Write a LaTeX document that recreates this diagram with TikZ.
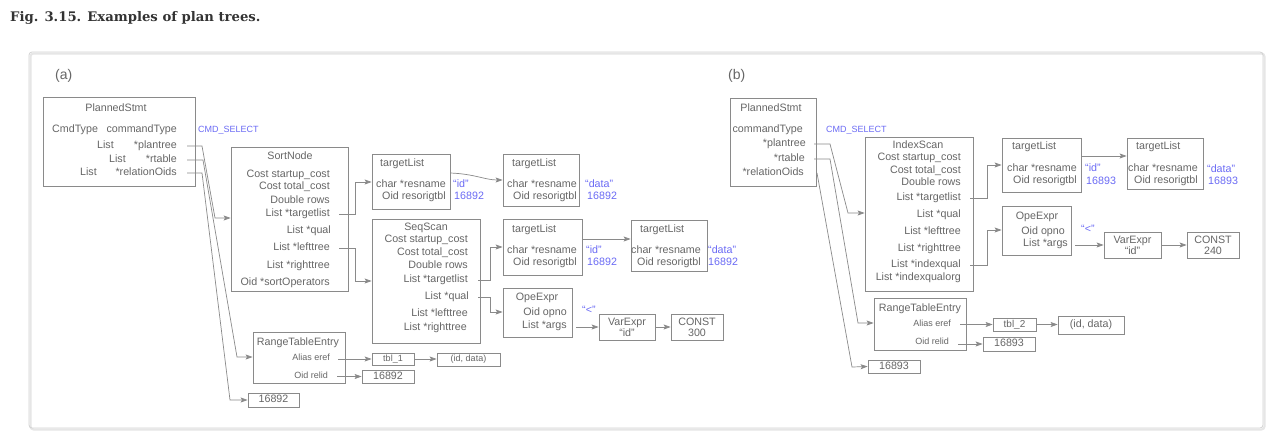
\documentclass[tikz,border=0pt]{standalone}
\usepackage{fontspec}
\setmainfont{Liberation Sans}
\newfontfamily\figfont{DejaVu Serif}
\usetikzlibrary{arrows.meta,calc,fit}
\definecolor{lnc}{HTML}{8A8A8A}
\definecolor{txc}{HTML}{666666}
\definecolor{blc}{HTML}{6B6BF5}
\definecolor{panc}{HTML}{D2D2D2}
\tikzset{
  box/.style={draw=lnc, line width=0.8pt, inner sep=0pt},
  txt/.style={text=txc, inner sep=0pt, font=\fontsize{10.7}{12.5}\selectfont, text height=7.6pt, text depth=2.2pt},
  txs/.style={txt, font=\fontsize{9}{11}\selectfont, text height=6.5pt, text depth=1.9pt},
  valt/.style={txt, text=blc},
  two/.style={text=txc, inner sep=0pt, font=\fontsize{10.7}{11}\selectfont, align=center},
  arr/.style={draw=lnc, line width=0.7pt, -{Stealth[length=7pt,width=5pt,inset=1.5pt]}},
}
\begin{document}
\begin{tikzpicture}[x=1pt,y=-1pt]
\fill[white] (0,0) rectangle (1276,434);
\useasboundingbox (0,0) rectangle (1276,434);
% panel
\draw[panc!55, line width=2pt, rounded corners=3pt] (30.5,53.5) rectangle (1264.5,429.5);
\draw[panc, line width=0.8pt, rounded corners=3pt] (29,52) rectangle (1263,428);
\node[anchor=west, font=\figfont\bfseries\fontsize{13.2}{15}\selectfont, text=black!80, inner sep=0pt] (fig) at (10,18) {Fig. 3.15. Examples of plan trees.};
\node[anchor=west, text=txc, font=\fontsize{14}{16}\selectfont, inner sep=0pt] (la) at (55,76) {(a)};
\node[anchor=west, text=txc, font=\fontsize{14}{16}\selectfont, inner sep=0pt] (lb) at (728,76) {(b)};

%%%%%%%%%%%%%%%% (a)
\node[box, fit={(43,97) (195,186)}] (psa) {};
\node[txt] (psa-t) at (116,109) {PlannedStmt};
\node[txt, anchor=west] (psa-c1) at (52,130) {CmdType};
\node[txt, anchor=east] (psa-c2) at (177,130) {commandType};
\node[valt, font=\fontsize{9}{11}\selectfont, anchor=west] (psa-cmd) at (198,130) {CMD\_SELECT};
\node[txt, anchor=east] (psa-l1) at (114,146) {List};
\node[txt, anchor=east] (psa-plan) at (177,146) {*plantree};
\node[txt, anchor=east] (psa-l2) at (126,160) {List};
\node[txt, anchor=east] (psa-rt) at (177,160) {*rtable};
\node[txt, anchor=east] (psa-l3) at (97,173) {List};
\node[txt, anchor=east] (psa-ro) at (177,173) {*relationOids};

\node[box, fit={(231,147) (348,291)}] (sort) {};
\node[txt] (sort-t) at (290,157) {SortNode};
\node[txt, anchor=east] (sort-r1) at (330,175) {Cost startup\_cost};
\node[txt, anchor=east] (sort-r2) at (330,187) {Cost total\_cost};
\node[txt, anchor=east] (sort-r3) at (330,201) {Double rows};
\node[txt, anchor=east] (sort-tl) at (330,214) {List *targetlist};
\node[txt, anchor=east] (sort-q) at (331,231) {List *qual};
\node[txt, anchor=east] (sort-lt) at (330,248) {List *lefttree};
\node[txt, anchor=east] (sort-rt) at (330,266) {List *righttree};
\node[txt, anchor=east] (sort-so) at (330,283) {Oid *sortOperators};

\node[box, fit={(372,154) (450,209)}] (tl1) {};
\node[txt, anchor=west] (tl1-t) at (380,164) {targetList};
\node[txt, anchor=east] (tl1-r1) at (446,185) {char *resname};
\node[txt, anchor=east] (tl1-r2) at (446,197) {Oid resorigtbl};
\node[valt, anchor=west] (tl1-v1) at (453,185) {“id”};
\node[valt, anchor=west] (tl1-v2) at (454,197) {16892};

\node[box, fit={(503,154) (579,206)}] (tl2) {};
\node[txt, anchor=west] (tl2-t) at (512,164) {targetList};
\node[txt, anchor=east] (tl2-r1) at (577,185) {char *resname};
\node[txt, anchor=east] (tl2-r2) at (577,197) {Oid resorigtbl};
\node[valt, anchor=west] (tl2-v1) at (585,185) {“data”};
\node[valt, anchor=west] (tl2-v2) at (587,197) {16892};

\node[box, fit={(372,219) (480,343)}] (seq) {};
\node[txt] (seq-t) at (426,228) {SeqScan};
\node[txt, anchor=east] (seq-r1) at (468,240) {Cost startup\_cost};
\node[txt, anchor=east] (seq-r2) at (468,253) {Cost total\_cost};
\node[txt, anchor=east] (seq-r3) at (468,266) {Double rows};
\node[txt, anchor=east] (seq-tl) at (468,280) {List *targetlist};
\node[txt, anchor=east] (seq-q) at (469,297) {List *qual};
\node[txt, anchor=east] (seq-lt) at (468,314) {List *lefttree};
\node[txt, anchor=east] (seq-rt) at (467,328) {List *righttree};

\node[box, fit={(503,219) (582,275)}] (tl3) {};
\node[txt, anchor=west] (tl3-t) at (512,230) {targetList};
\node[txt, anchor=east] (tl3-r1) at (577,251) {char *resname};
\node[txt, anchor=east] (tl3-r2) at (577,263) {Oid resorigtbl};
\node[valt, anchor=west] (tl3-v1) at (586,251) {“id”};
\node[valt, anchor=west] (tl3-v2) at (587,263) {16892};

\node[box, fit={(631,220) (707,271)}] (tl4) {};
\node[txt, anchor=west] (tl4-t) at (640,230) {targetList};
\node[txt, anchor=east] (tl4-r1) at (701,251) {char *resname};
\node[txt, anchor=east] (tl4-r2) at (701,263) {Oid resorigtbl};
\node[valt, anchor=west] (tl4-v1) at (708,251) {“data”};
\node[valt, anchor=west] (tl4-v2) at (708,263) {16892};

\node[box, fit={(503,288) (572,337)}] (opeA) {};
\node[txt] (opeA-t) at (537,298) {OpeExpr};
\node[txt, anchor=east] (opeA-op) at (567,313) {Oid opno};
\node[txt, anchor=east] (opeA-args) at (567,326) {List *args};
\node[valt, anchor=west] (ltA) at (582,311) {“<”};

\node[box, fit={(599,314) (655,340)}] (varA) {};
\node[two] (varA-t) at (varA.center) {VarExpr\\“id”};
\node[box, fit={(671,314) (723,340)}] (constA) {};
\node[two] (constA-t) at (constA.center) {CONST\\300};

\node[box, fit={(253,332) (345,383)}] (rteA) {};
\node[txt] (rteA-t) at (298,343) {RangeTableEntry};
\node[txs, anchor=east] (rteA-eref) at (330,358) {Alias eref};
\node[txs, anchor=east] (rteA-rel) at (328,376) {Oid relid};
\node[box, fit={(372,353) (414,365)}] (tblA) {};
\node[txs] (tblA-t) at (tblA.center) {tbl\_1};
\node[box, fit={(437,353) (500,366)}] (iddA) {};
\node[txs] (iddA-t) at (iddA.center) {(id, data)};
\node[box, fit={(362,370) (414,383)}] (relA) {};
\node[txt] (relA-t) at (relA.center) {16892};
\node[box, fit={(248,393) (299,407)}] (oidA) {};
\node[txt] (oidA-t) at (oidA.center) {16892};

% connectors (a)
\draw[arr] ($(psa-plan.east)+(10,0)$) -- ++(15,0) -- (215,218) -- (sort.west |- 0,218);
\draw[arr] ($(psa-rt.east)+(10,0)$) -- ++(16,0) -- (237,357) -- (rteA.west |- 0,357);
\draw[arr] ($(psa-ro.east)+(10,0)$) -- ++(15,0) -- (230,400) -- (oidA.west);
\draw[arr] ($(sort-tl.east)+(9,0)$) -- ++(16,0) |- (tl1.west |- 0,182);
\draw[arr] ($(sort-lt.east)+(9,0)$) -- ++(16,0) |- (seq.west |- 0,281);
\draw[arr] (tl1.east |- 0,173) .. controls (475,174) and (485,180) .. (tl2.west |- 0,180);
\draw[arr] ($(seq-tl.east)+(10,0)$) -- ++(12,0) |- (tl3.west |- 0,247);
\draw[arr] (tl3.east |- 0,239) -- (tl4.west |- 0,239);
\draw[arr] ($(seq-q.east)+(9,0)$) -- ++(12,0) |- (opeA.west |- 0,312);
\draw[arr] ($(opeA-args.east |- varA.west)+(9,0)$) -- (varA.west);
\draw[arr] (varA.east) -- (constA.west);
\draw[arr] ($(rteA-eref.east |- tblA.west)+(8,0)$) -- (tblA.west);
\draw[arr] (tblA.east) -- (iddA.west |- tblA.east);
\draw[arr] ($(rteA-rel.east |- relA.west)+(9,0)$) -- (relA.west);

%%%%%%%%%%%%%%%% (b)
\node[box, fit={(730,98) (816,186)}] (psb) {};
\node[txt] (psb-t) at (771,109) {PlannedStmt};
\node[txt, anchor=east] (psb-c) at (803,130) {commandType};
\node[valt, font=\fontsize{9}{11}\selectfont, anchor=west] (psb-cmd) at (826,130) {CMD\_SELECT};
\node[txt, anchor=east] (psb-plan) at (806,144) {*plantree};
\node[txt, anchor=east] (psb-rt) at (805,159) {*rtable};
\node[txt, anchor=east] (psb-ro) at (804,173) {*relationOids};

\node[box, fit={(865,137) (973,291)}] (idx) {};
\node[txt] (idx-t) at (918,146) {IndexScan};
\node[txt, anchor=east] (idx-r1) at (961,158) {Cost startup\_cost};
\node[txt, anchor=east] (idx-r2) at (961,171) {Cost total\_cost};
\node[txt, anchor=east] (idx-r3) at (961,183) {Double rows};
\node[txt, anchor=east] (idx-tl) at (961,198) {List *targetlist};
\node[txt, anchor=east] (idx-q) at (961,215) {List *qual};
\node[txt, anchor=east] (idx-lt) at (961,232) {List *lefttree};
\node[txt, anchor=east] (idx-rt) at (961,249) {List *righttree};
\node[txt, anchor=east] (idx-iq) at (961,265) {List *indexqual};
\node[txt, anchor=east] (idx-iqo) at (961,278) {List *indexqualorg};

\node[box, fit={(1002,138) (1081,192)}] (tb1) {};
\node[txt, anchor=west] (tb1-t) at (1012,147) {targetList};
\node[txt, anchor=east] (tb1-r1) at (1077,169) {char *resname};
\node[txt, anchor=east] (tb1-r2) at (1077,181) {Oid resorigtbl};
\node[valt, anchor=west] (tb1-v1) at (1085,169) {“id”};
\node[valt, anchor=west] (tb1-v2) at (1086,182) {16893};

\node[box, fit={(1127,138) (1203,189)}] (tb2) {};
\node[txt, anchor=west] (tb2-t) at (1136,147) {targetList};
\node[txt, anchor=east] (tb2-r1) at (1198,169) {char *resname};
\node[txt, anchor=east] (tb2-r2) at (1198,181) {Oid resorigtbl};
\node[valt, anchor=west] (tb2-v1) at (1207,170) {“data”};
\node[valt, anchor=west] (tb2-v2) at (1208,182) {16893};

\node[box, fit={(1002,206) (1071,255)}] (opeB) {};
\node[txt] (opeB-t) at (1037,217) {OpeExpr};
\node[txt, anchor=east] (opeB-op) at (1065,232) {Oid opno};
\node[txt, anchor=east] (opeB-args) at (1068,244) {List *args};
\node[valt, anchor=west] (ltB) at (1081,230) {“<”};

\node[box, fit={(1104,232) (1161,258)}] (varB) {};
\node[two] (varB-t) at (varB.center) {VarExpr\\“id”};
\node[box, fit={(1187,232) (1239,258)}] (constB) {};
\node[two] (constB-t) at (constB.center) {CONST\\240};

\node[box, fit={(874,298) (966,350)}] (rteB) {};
\node[txt] (rteB-t) at (920,309) {RangeTableEntry};
\node[txs, anchor=east] (rteB-eref) at (951,324) {Alias eref};
\node[txs, anchor=east] (rteB-rel) at (949,342) {Oid relid};
\node[box, fit={(993,318) (1036,331)}] (tblB) {};
\node[txt, font=\fontsize{10}{12}\selectfont] (tblB-t) at (tblB.center) {tbl\_2};
\node[box, fit={(1058,316) (1124,334)}] (iddB) {};
\node[txt] (iddB-t) at (iddB.center) {(id, data)};
\node[box, fit={(983,337) (1035,351)}] (relB) {};
\node[txt] (relB-t) at (relB.center) {16893};
\node[box, fit={(868,360) (920,373)}] (oidB) {};
\node[txt] (oidB-t) at (oidB.center) {16893};

% connectors (b)
\draw[arr] ($(psb-plan.east)+(8,0)$) -- ++(16,0) -- (848,213) -- (idx.west |- 0,213);
\draw[arr] ($(psb-rt.east)+(9,0)$) -- ++(16,0) -- (858,323) -- (rteB.west |- 0,323);
\draw[arr] ($(psb-ro.east)+(13,0)$) -- (852,367) -- (oidB.west);
\draw[arr] ($(idx-tl.east)+(9,0)$) -- ++(17,0) |- (tb1.west |- 0,165);
\draw[arr] (tb1.east |- 0,156) -- (tb2.west |- 0,156);
\draw[arr] ($(idx-iq.east)+(9,0)$) -- ++(17,0) |- (opeB.west |- 0,230);
\draw[arr] ($(opeB-args.east |- varB.west)+(7,0)$) -- (varB.west);
\draw[arr] (varB.east) -- (constB.west);
\draw[arr] ($(rteB-eref.east |- tblB.west)+(9,0)$) -- (tblB.west);
\draw[arr] (tblB.east) -- (iddB.west |- tblB.east);
\draw[arr] ($(rteB-rel.east |- relB.west)+(9,0)$) -- (relB.west);
\end{tikzpicture}
\end{document}
